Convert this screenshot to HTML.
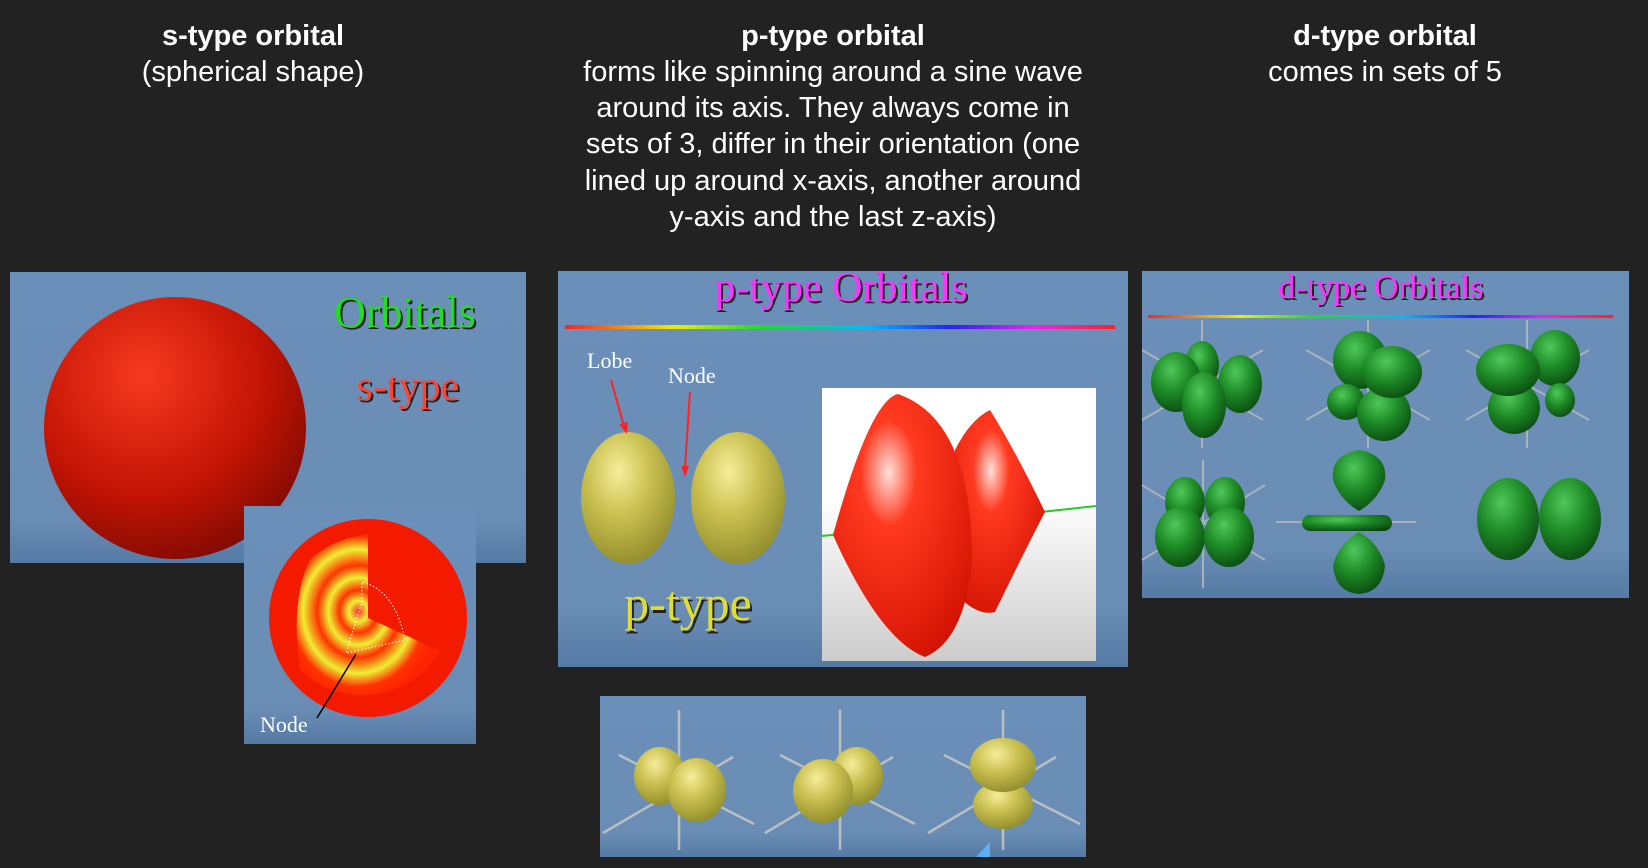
<!DOCTYPE html>
<html><head><meta charset="utf-8"><style>
html,body{margin:0;padding:0;background:#222;}
svg{display:block}
.h{font-family:"Liberation Sans",sans-serif;fill:#fff;font-size:29px;text-anchor:middle}
.serif{font-family:"Liberation Serif",serif}
</style></head><body>
<svg width="1648" height="868" viewBox="0 0 1648 868">
<defs>
<linearGradient id="pan" x1="0" y1="0" x2="0" y2="1"><stop offset="0" stop-color="#6a8fb8"/><stop offset="0.85" stop-color="#6a8db5"/><stop offset="1" stop-color="#557aa3"/></linearGradient>
<linearGradient id="rain" x1="0" x2="1"><stop offset="0" stop-color="#f22"/><stop offset=".2" stop-color="#ee0"/><stop offset=".35" stop-color="#2d2"/><stop offset=".55" stop-color="#0bf"/><stop offset=".7" stop-color="#22f"/><stop offset=".85" stop-color="#e2e"/><stop offset="1" stop-color="#f22"/></linearGradient>
<radialGradient id="redS" cx=".38" cy=".3" r=".75"><stop offset="0" stop-color="#f53a20"/><stop offset=".6" stop-color="#c41404"/><stop offset="1" stop-color="#800a02"/></radialGradient>
<radialGradient id="yel" cx=".4" cy=".3" r=".75"><stop offset="0" stop-color="#f6ee9a"/><stop offset=".45" stop-color="#c9c050"/><stop offset="1" stop-color="#8e8a2a"/></radialGradient>
<radialGradient id="grn" cx=".4" cy=".3" r=".75"><stop offset="0" stop-color="#4fc85a"/><stop offset=".5" stop-color="#1d8a26"/><stop offset="1" stop-color="#0a4a10"/></radialGradient>
<radialGradient id="rings" cx=".43" cy=".48" r=".55"><stop offset="0" stop-color="#f33"/><stop offset=".12" stop-color="#ee3"/><stop offset=".24" stop-color="#f30"/><stop offset=".38" stop-color="#ee3"/><stop offset=".52" stop-color="#f30"/><stop offset=".7" stop-color="#ee3"/><stop offset=".85" stop-color="#f30"/><stop offset="1" stop-color="#f20"/></radialGradient>
<radialGradient id="redP" cx=".4" cy=".3" r=".8"><stop offset="0" stop-color="#ffe0d8"/><stop offset=".25" stop-color="#ff3a20"/><stop offset="1" stop-color="#d01000"/></radialGradient>
<linearGradient id="wbox" x1="0" y1="0" x2="0" y2="1"><stop offset=".4" stop-color="#fff"/><stop offset="1" stop-color="#ccc"/></linearGradient>
</defs>
<g>
<text class="h" x="253" y="45" font-weight="bold">s-type orbital</text>
<text class="h" x="253" y="81">(spherical shape)</text></g>
<g>
<text class="h" x="833" y="45" font-weight="bold">p-type orbital</text>
<text class="h" x="833" y="81">forms like spinning around a sine wave</text>
<text class="h" x="833" y="117">around its axis. They always come in</text>
<text class="h" x="833" y="153">sets of 3, differ in their orientation (one</text>
<text class="h" x="833" y="190">lined up around x-axis, another around</text>
<text class="h" x="833" y="226">y-axis and the last z-axis)</text></g>
<g>
<text class="h" x="1385" y="45" font-weight="bold">d-type orbital</text>
<text class="h" x="1385" y="81">comes in sets of 5</text></g>

<g>
<rect x="10" y="272" width="516" height="291" fill="url(#pan)"/>
<circle cx="175" cy="428" r="131" fill="url(#redS)"/>
<text class="serif" x="407" y="329" font-size="44" fill="#222" text-anchor="middle">Orbitals</text>
<text class="serif" x="405" y="327" font-size="44" fill="#2d2" text-anchor="middle">Orbitals</text>
<text class="serif" x="410" y="402" font-size="42" fill="#222" text-anchor="middle">s-type</text>
<text class="serif" x="408" y="400" font-size="42" fill="#f43" text-anchor="middle">s-type</text>
</g>
<g>
<rect x="244" y="506" width="232" height="238" fill="url(#pan)"/>
<circle cx="368" cy="618" r="99" fill="#f41a00"/>
<path d="M368,534 L368,618 L440,651 A90,90 0 0 1 300,670 Q290,600 310,560 Q330,540 368,534 Z" fill="url(#rings)"/>
<path d="M362,602 L362,582 Q395,590 405,640 L346,653 Z" fill="none" stroke="#fff" stroke-width="1" stroke-dasharray="1.5,2"/>
<line x1="317" y1="718" x2="356" y2="654" stroke="#000" stroke-width="1.5"/>
<text class="serif" x="260" y="732" font-size="22" fill="#fff">Node</text>
</g>

<g>
<rect x="558" y="271" width="570" height="396" fill="url(#pan)"/>
<text class="serif" x="843" y="303" font-size="42" fill="#222" text-anchor="middle">p-type Orbitals</text>
<text class="serif" x="841" y="301" font-size="42" fill="#f3f" text-anchor="middle">p-type Orbitals</text>
<rect x="565" y="325" width="550" height="4" fill="url(#rain)"/>
<ellipse cx="628" cy="498" rx="47" ry="66" fill="url(#yel)"/>
<ellipse cx="738" cy="498" rx="47" ry="66" fill="url(#yel)"/>
<text class="serif" x="587" y="368" font-size="22" fill="#fff">Lobe</text>
<text class="serif" x="668" y="383" font-size="22" fill="#fff">Node</text>
<line x1="611" y1="380" x2="624" y2="426" stroke="#f22" stroke-width="2"/><path d="M619,424 L627,434 L628,422Z" fill="#f22"/>
<line x1="690" y1="392" x2="685" y2="468" stroke="#f22" stroke-width="2"/><path d="M681,466 L685,477 L689,466Z" fill="#f22"/>
<text class="serif" x="690" y="623" font-size="50" fill="#222" text-anchor="middle">p-type</text>
<text class="serif" x="688" y="620" font-size="50" fill="#dd3" text-anchor="middle">p-type</text>
<rect x="822" y="388" width="274" height="273" fill="url(#wbox)"/>
<line x1="822" y1="536" x2="1096" y2="506" stroke="#2c2" stroke-width="2"/>
<path d="M990,410 Q970,420 955,450 L962,600 Q980,616 995,612 Q1020,560 1045,512 Q1015,450 990,410Z" fill="url(#redP)"/>
<path d="M898,394 Q870,400 833,535 Q880,640 925,657 Q965,640 972,560 Q972,420 898,394Z" fill="url(#redP)"/>
</g>

<g>
<rect x="600" y="696" width="486" height="161" fill="url(#pan)"/>
<g stroke="#c8c8c8" stroke-width="2.5" opacity=".85">
<line x1="679" y1="710" x2="679" y2="850"/><line x1="603" y1="833" x2="733" y2="757"/><line x1="619" y1="755" x2="754" y2="824"/>
<line x1="840" y1="710" x2="840" y2="850"/><line x1="765" y1="833" x2="893" y2="757"/><line x1="780" y1="755" x2="915" y2="824"/>
<line x1="1003" y1="710" x2="1003" y2="850"/><line x1="928" y1="833" x2="1056" y2="757"/><line x1="944" y1="755" x2="1080" y2="824"/>
</g>
<ellipse cx="660" cy="776" rx="26" ry="29" fill="url(#yel)"/><ellipse cx="697" cy="790" rx="29" ry="32" fill="url(#yel)"/>
<ellipse cx="857" cy="776" rx="26" ry="29" fill="url(#yel)"/><ellipse cx="823" cy="791" rx="30" ry="32" fill="url(#yel)"/>
<ellipse cx="1003" cy="805" rx="30" ry="24" fill="url(#yel)"/><ellipse cx="1003" cy="765" rx="33" ry="27" fill="url(#yel)"/>
<path d="M976,857 L990,842 L990,857Z" fill="#5ab0f0"/>
</g>

<g>
<rect x="1142" y="271" width="487" height="327" fill="url(#pan)"/>
<text class="serif" x="1383" y="300" font-size="34" fill="#222" text-anchor="middle">d-type Orbitals</text>
<text class="serif" x="1381" y="298" font-size="34" fill="#f3f" text-anchor="middle">d-type Orbitals</text>
<rect x="1148" y="315" width="465" height="3" fill="url(#rain)"/>
<g stroke="#bbb" stroke-width="2" opacity=".8">
<line x1="1202" y1="320" x2="1202" y2="448"/><line x1="1142" y1="350" x2="1263" y2="420"/><line x1="1142" y1="420" x2="1263" y2="350"/>
<line x1="1368" y1="320" x2="1368" y2="448"/><line x1="1306" y1="350" x2="1430" y2="420"/><line x1="1306" y1="420" x2="1430" y2="350"/>
<line x1="1527" y1="320" x2="1527" y2="448"/><line x1="1466" y1="350" x2="1589" y2="420"/><line x1="1466" y1="420" x2="1589" y2="350"/>
<line x1="1203" y1="460" x2="1203" y2="588"/><line x1="1142" y1="485" x2="1265" y2="560"/><line x1="1142" y1="560" x2="1265" y2="485"/>
<line x1="1276" y1="522" x2="1416" y2="522"/>
</g>
<g fill="url(#grn)">
<ellipse cx="1202" cy="365" rx="17" ry="24"/><ellipse cx="1176" cy="382" rx="25" ry="30"/><ellipse cx="1240" cy="384" rx="22" ry="29"/><ellipse cx="1204" cy="405" rx="22" ry="33"/>
<ellipse cx="1360" cy="360" rx="27" ry="29"/><ellipse cx="1346" cy="402" rx="19" ry="18"/><ellipse cx="1384" cy="414" rx="27" ry="27"/><ellipse cx="1392" cy="372" rx="30" ry="26"/>
<ellipse cx="1555" cy="358" rx="25" ry="28"/><ellipse cx="1560" cy="400" rx="15" ry="17"/><ellipse cx="1514" cy="408" rx="26" ry="26"/><ellipse cx="1508" cy="370" rx="32" ry="26"/>
<ellipse cx="1185" cy="502" rx="20" ry="25"/><ellipse cx="1225" cy="502" rx="20" ry="25"/><ellipse cx="1180" cy="537" rx="25" ry="30"/><ellipse cx="1229" cy="537" rx="25" ry="30"/>
<path d="M1359,450 Q1388,455 1385,480 Q1378,500 1359,511 Q1340,500 1333,480 Q1330,455 1359,450Z"/>
<path d="M1359,532 Q1340,542 1333,565 Q1335,592 1359,594 Q1383,592 1385,565 Q1378,542 1359,532Z"/>
<rect x="1302" y="515" width="90" height="16" rx="8"/>
<ellipse cx="1508" cy="519" rx="31" ry="41"/><ellipse cx="1570" cy="519" rx="31" ry="41"/>
</g>
</g>
</svg>
</body></html>
